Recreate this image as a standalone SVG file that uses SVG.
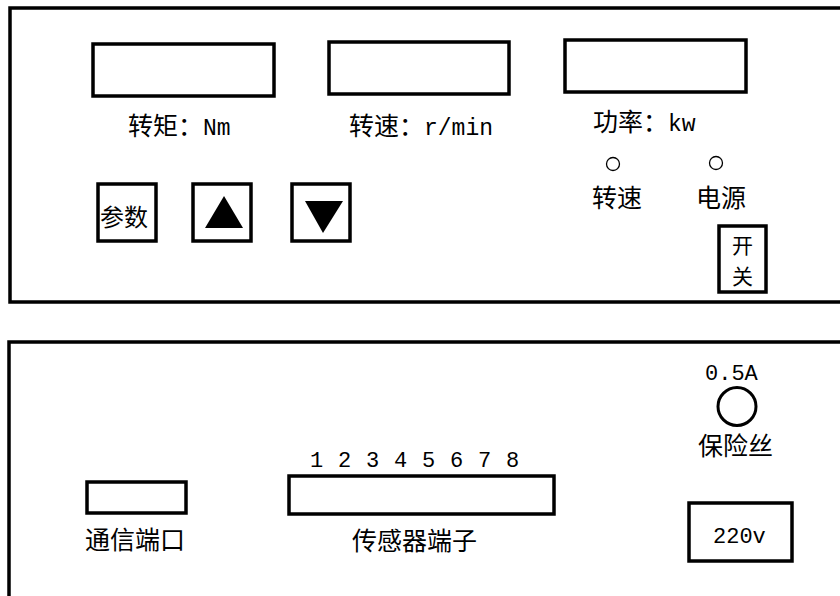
<svg xmlns="http://www.w3.org/2000/svg" width="840" height="596" viewBox="0 0 840 596">
<style>
.panel{fill:none;stroke:#000;stroke-width:3.5}
.box{fill:#fff;stroke:#000;stroke-width:3.5}
.cn{font-family:"Noto Sans CJK SC","Noto Sans CJK JP",sans-serif;font-size:25px;fill:#000}
.mx{font-family:"Liberation Mono","Noto Sans CJK SC",monospace;font-size:25px;fill:#000}
.lt{font-family:"Liberation Mono",monospace;font-size:23px}
.mono{font-family:"Liberation Mono",monospace;font-size:22px;fill:#000}
</style>
<rect width="840" height="596" fill="#fff"/>
<g id="front-panel">
<rect class="panel" x="10" y="8" width="840" height="294"/>
</g>
<g id="torque-display">
<rect class="box" x="93" y="44" width="181" height="52"/>
<text class="mx" x="128" y="135">转矩：<tspan class="lt">Nm</tspan></text>
</g>
<g id="speed-display">
<rect class="box" x="329" y="42" width="180" height="52"/>
<text class="mx" x="349" y="135">转速：<tspan class="lt">r/min</tspan></text>
</g>
<g id="power-display">
<rect class="box" x="565" y="40" width="181" height="52"/>
<text class="mx" x="593" y="131">功率：<tspan class="lt">kw</tspan></text>
</g>
<g id="btn-param">
<rect class="box" x="98" y="184" width="58" height="57"/>
<text class="cn" x="100" y="226" textLength="48" style="font-size:24px">参数</text>
</g>
<g id="btn-up">
<rect class="box" x="193" y="184" width="58" height="57"/>
<polygon points="224,196 243,228 205,228" fill="#000"/>
</g>
<g id="btn-down">
<rect class="box" x="292" y="184" width="58" height="57"/>
<polygon points="305,201 343,201 323,233" fill="#000"/>
</g>
<g id="led-speed">
<circle cx="613" cy="164" r="6.5" fill="none" stroke="#000" stroke-width="1.3"/>
<text class="cn" x="592" y="207">转速</text>
</g>
<g id="led-power">
<circle cx="716" cy="163" r="6.5" fill="none" stroke="#000" stroke-width="1.3"/>
<text class="cn" x="696" y="207">电源</text>
</g>
<g id="switch">
<rect class="box" x="719" y="226" width="47" height="66"/>
<text class="cn" style="font-size:21px"><tspan x="732" y="253">开</tspan><tspan x="732" y="284">关</tspan></text>
</g>
<g id="rear-panel">
<rect class="panel" x="9" y="342" width="841" height="270"/>
</g>
<g id="comm-port">
<rect class="box" x="87" y="482" width="99" height="31"/>
<text class="cn" x="85" y="549">通信端口</text>
</g>
<g id="sensor-terminal">
<text class="mono"><tspan x="310" y="467">1</tspan><tspan x="338" y="467">2</tspan><tspan x="366" y="467">3</tspan><tspan x="394" y="467">4</tspan><tspan x="422" y="467">5</tspan><tspan x="450" y="467">6</tspan><tspan x="478" y="467">7</tspan><tspan x="506" y="467">8</tspan></text>
<rect class="box" x="289" y="476" width="265" height="38"/>
<text class="cn" x="352" y="550">传感器端子</text>
</g>
<g id="fuse">
<text class="mono" x="705" y="380">0.5A</text>
<circle cx="737" cy="406.5" r="19" fill="none" stroke="#000" stroke-width="3"/>
<text class="cn" x="698" y="455">保险丝</text>
</g>
<g id="power-inlet">
<rect class="box" x="689" y="503" width="103" height="58"/>
<text class="mono" x="713" y="543">220v</text>
</g>
<g id="connectors"></g>
</svg>
